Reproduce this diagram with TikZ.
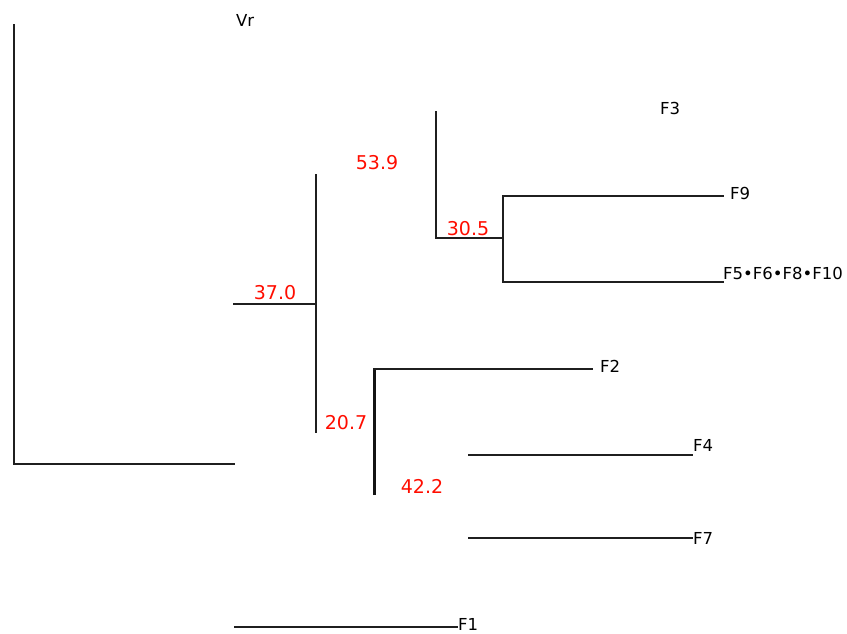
\documentclass[tikz,border=0pt]{standalone}
\usepackage{fontspec}
\setmainfont{DejaVu Sans}
\begin{document}
\begin{tikzpicture}[x=1pt,y=-1pt,
  branch/.style={draw=black!88,line width=1.8pt,line cap=rect},
  stem/.style={draw=black!92,line width=3pt},
  leaf/.style={anchor=west,inner sep=0pt,font=\fontsize{16.5}{16.5}\selectfont,text=black},
  boot/.style={anchor=center,inner sep=0pt,font=\fontsize{19}{19}\selectfont,text=red!90!orange}]
\useasboundingbox (0,0) rectangle (847,634);

% tree points
\coordinate (r0) at (14,25);
\coordinate (r1) at (14,464);
\coordinate (r2) at (234,464);
\coordinate (a0) at (234,304);
\coordinate (a1) at (316,304);
\coordinate (a2) at (316,175);
\coordinate (a3) at (316,432);
\coordinate (b0) at (436,238);
\coordinate (b1) at (436,112);
\coordinate (c0) at (503,238);
\coordinate (c1) at (503,196);
\coordinate (c2) at (503,282);
\coordinate (d0) at (374,369);
\coordinate (d1) at (374,495);
\coordinate (f9) at (723,196);
\coordinate (f5) at (723,282);
\coordinate (f2) at (592,369);
\coordinate (g4a) at (469,455);
\coordinate (g4) at (692,455);
\coordinate (g7a) at (469,538);
\coordinate (g7) at (692,538);
\coordinate (g1a) at (235,627);
\coordinate (g1) at (457,627);

% branches
\draw[branch] (r0) -- (r1) -- (r2);
\draw[branch] (a0) -- (a1);
\draw[branch] (a2) -- (a3);
\draw[branch] (b1) -- (b0) -- (c0);
\draw[branch] (c1) -- (c2);
\draw[branch] (c1) -- (f9);
\draw[branch] (c2) -- (f5);
\draw[stem] (d1) -- (d0);
\draw[branch] (d0) -- (f2);
\draw[branch] (g4a) -- (g4);
\draw[branch] (g7a) -- (g7);
\draw[branch] (g1a) -- (g1);

% taxon labels
\node[leaf] (vr) at (236,20) {Vr};
\node[leaf] (lf3) at (660,108) {F3};
\node[leaf] (lf9) at (730,193) {F9};
\node[leaf] (lf5) at (723,273) {F5•F6•F8•F10};
\node[leaf] (lf2) at (600,366) {F2};
\node[leaf] (lf4) at (693,445) {F4};
\node[leaf] (lf7) at (693,538) {F7};
\node[leaf] (lf1) at (458,624) {F1};

% support values
\node[boot] (s539) at (377,163) {53.9};
\node[boot] (s305) at (468,229) {30.5};
\node[boot] (s370) at (275,293) {37.0};
\node[boot] (s207) at (346,423) {20.7};
\node[boot] (s422) at (422,486) {42.2};
\end{tikzpicture}
\end{document}
